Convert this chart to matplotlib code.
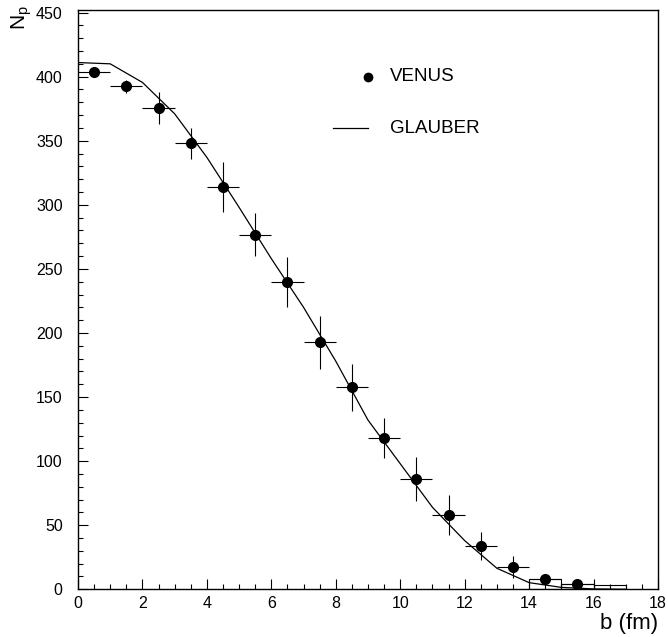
import matplotlib
matplotlib.use('Agg')
import matplotlib.pyplot as plt
from matplotlib.ticker import MultipleLocator

# ---- data ----
b_venus = [0.5, 1.5, 2.5, 3.5, 4.5, 5.5, 6.5, 7.5, 8.5, 9.5, 10.5, 11.5, 12.5, 13.5, 14.5, 15.5]
np_venus = [403.3, 392.6, 375.4, 348.1, 313.8, 276.7, 239.5, 192.7, 157.6, 118.3, 86.0, 57.7, 33.5, 17.4, 7.8, 3.9]
np_venus_err = [2.0, 5.0, 12.6, 12.0, 19.5, 16.7, 19.5, 20.8, 18.5, 15.6, 17.0, 15.6, 11.0, 8.6, 3.0, 2.0]
b_venus_halfwidth = [0.5] * 16

b_glauber = [0, 1, 2, 3, 4, 5, 6, 7, 8, 9, 10, 11, 12, 13, 14, 15, 16, 17]
np_glauber = [411, 410, 395.5, 371, 337, 298, 258, 220, 178, 132, 98, 64, 38, 16.4, 5.2, 1.5, 0.3, 0.0]

tail_bin_left = [14, 15, 16]
tail_bin_values = [7.8, 3.9, 3.0]

x_ticks = [0, 2, 4, 6, 8, 10, 12, 14, 16, 18]
y_ticks = [0, 50, 100, 150, 200, 250, 300, 350, 400, 450]

plt.rcParams['font.family'] = ['Liberation Sans', 'DejaVu Sans']
plt.rcParams['mathtext.default'] = 'regular'

W, H = 668, 637
fig = plt.figure(figsize=(W / 100, H / 100), dpi=100)
x0, x1 = 78, 658
y0, y1 = 589.3, 10
ax = fig.add_axes([x0 / W, (H - y0) / H, (x1 - x0) / W, (y0 - y1) / H])

# tail histogram boxes
ax.bar(tail_bin_left, tail_bin_values, width=1.0, align='edge',
       fill=False, edgecolor='black', linewidth=0.8)

# GLAUBER curve
ax.plot(b_glauber, np_glauber, color='black', linewidth=0.9)

# VENUS points with error bars
ax.errorbar(b_venus, np_venus, yerr=np_venus_err, xerr=b_venus_halfwidth,
            fmt='o', color='black', markersize=7, elinewidth=0.8, capsize=0)

ax.set_xlim(0, 18)
ax.set_ylim(0, 452)
ax.set_xticks(x_ticks)
ax.set_yticks(y_ticks)
ax.xaxis.set_minor_locator(MultipleLocator(0.5))
ax.yaxis.set_minor_locator(MultipleLocator(10))
ax.tick_params(which='both', direction='in', width=0.8, labelsize=11.5)
ax.tick_params(axis='x', which='major', length=7, pad=5)
ax.tick_params(axis='x', which='minor', length=3.5)
ax.tick_params(axis='y', which='major', length=7.5, pad=11)
ax.tick_params(axis='y', which='minor', length=3.8)
for s in ax.spines.values():
    s.set_linewidth(1.0)

# legend drawn manually
ax.plot([(368 - x0) / (x1 - x0)], [(y0 - 76.7) / (y0 - y1)], 'o', color='black',
        markersize=6, transform=ax.transAxes, clip_on=False)
ax.text((390 - x0) / (x1 - x0), (y0 - 76.7) / (y0 - y1), 'VENUS', transform=ax.transAxes,
        ha='left', va='center', fontsize=13.5)
ax.plot([(333 - x0) / (x1 - x0), (368 - x0) / (x1 - x0)],
        [(y0 - 128) / (y0 - y1)] * 2, color='black', linewidth=0.9, transform=ax.transAxes)
ax.text((390 - x0) / (x1 - x0), (y0 - 128) / (y0 - y1), 'GLAUBER', transform=ax.transAxes,
        ha='left', va='center', fontsize=13.5)

# axis titles
fig.text(658 / W, 1 - 624 / H, 'b (fm)', ha='right', va='center', fontsize=16)
fig.text(22 / W, 1 - 5 / H, r'N$_p$', rotation=90, ha='center', va='top', fontsize=15)

fig.savefig('out.png', dpi=100)
